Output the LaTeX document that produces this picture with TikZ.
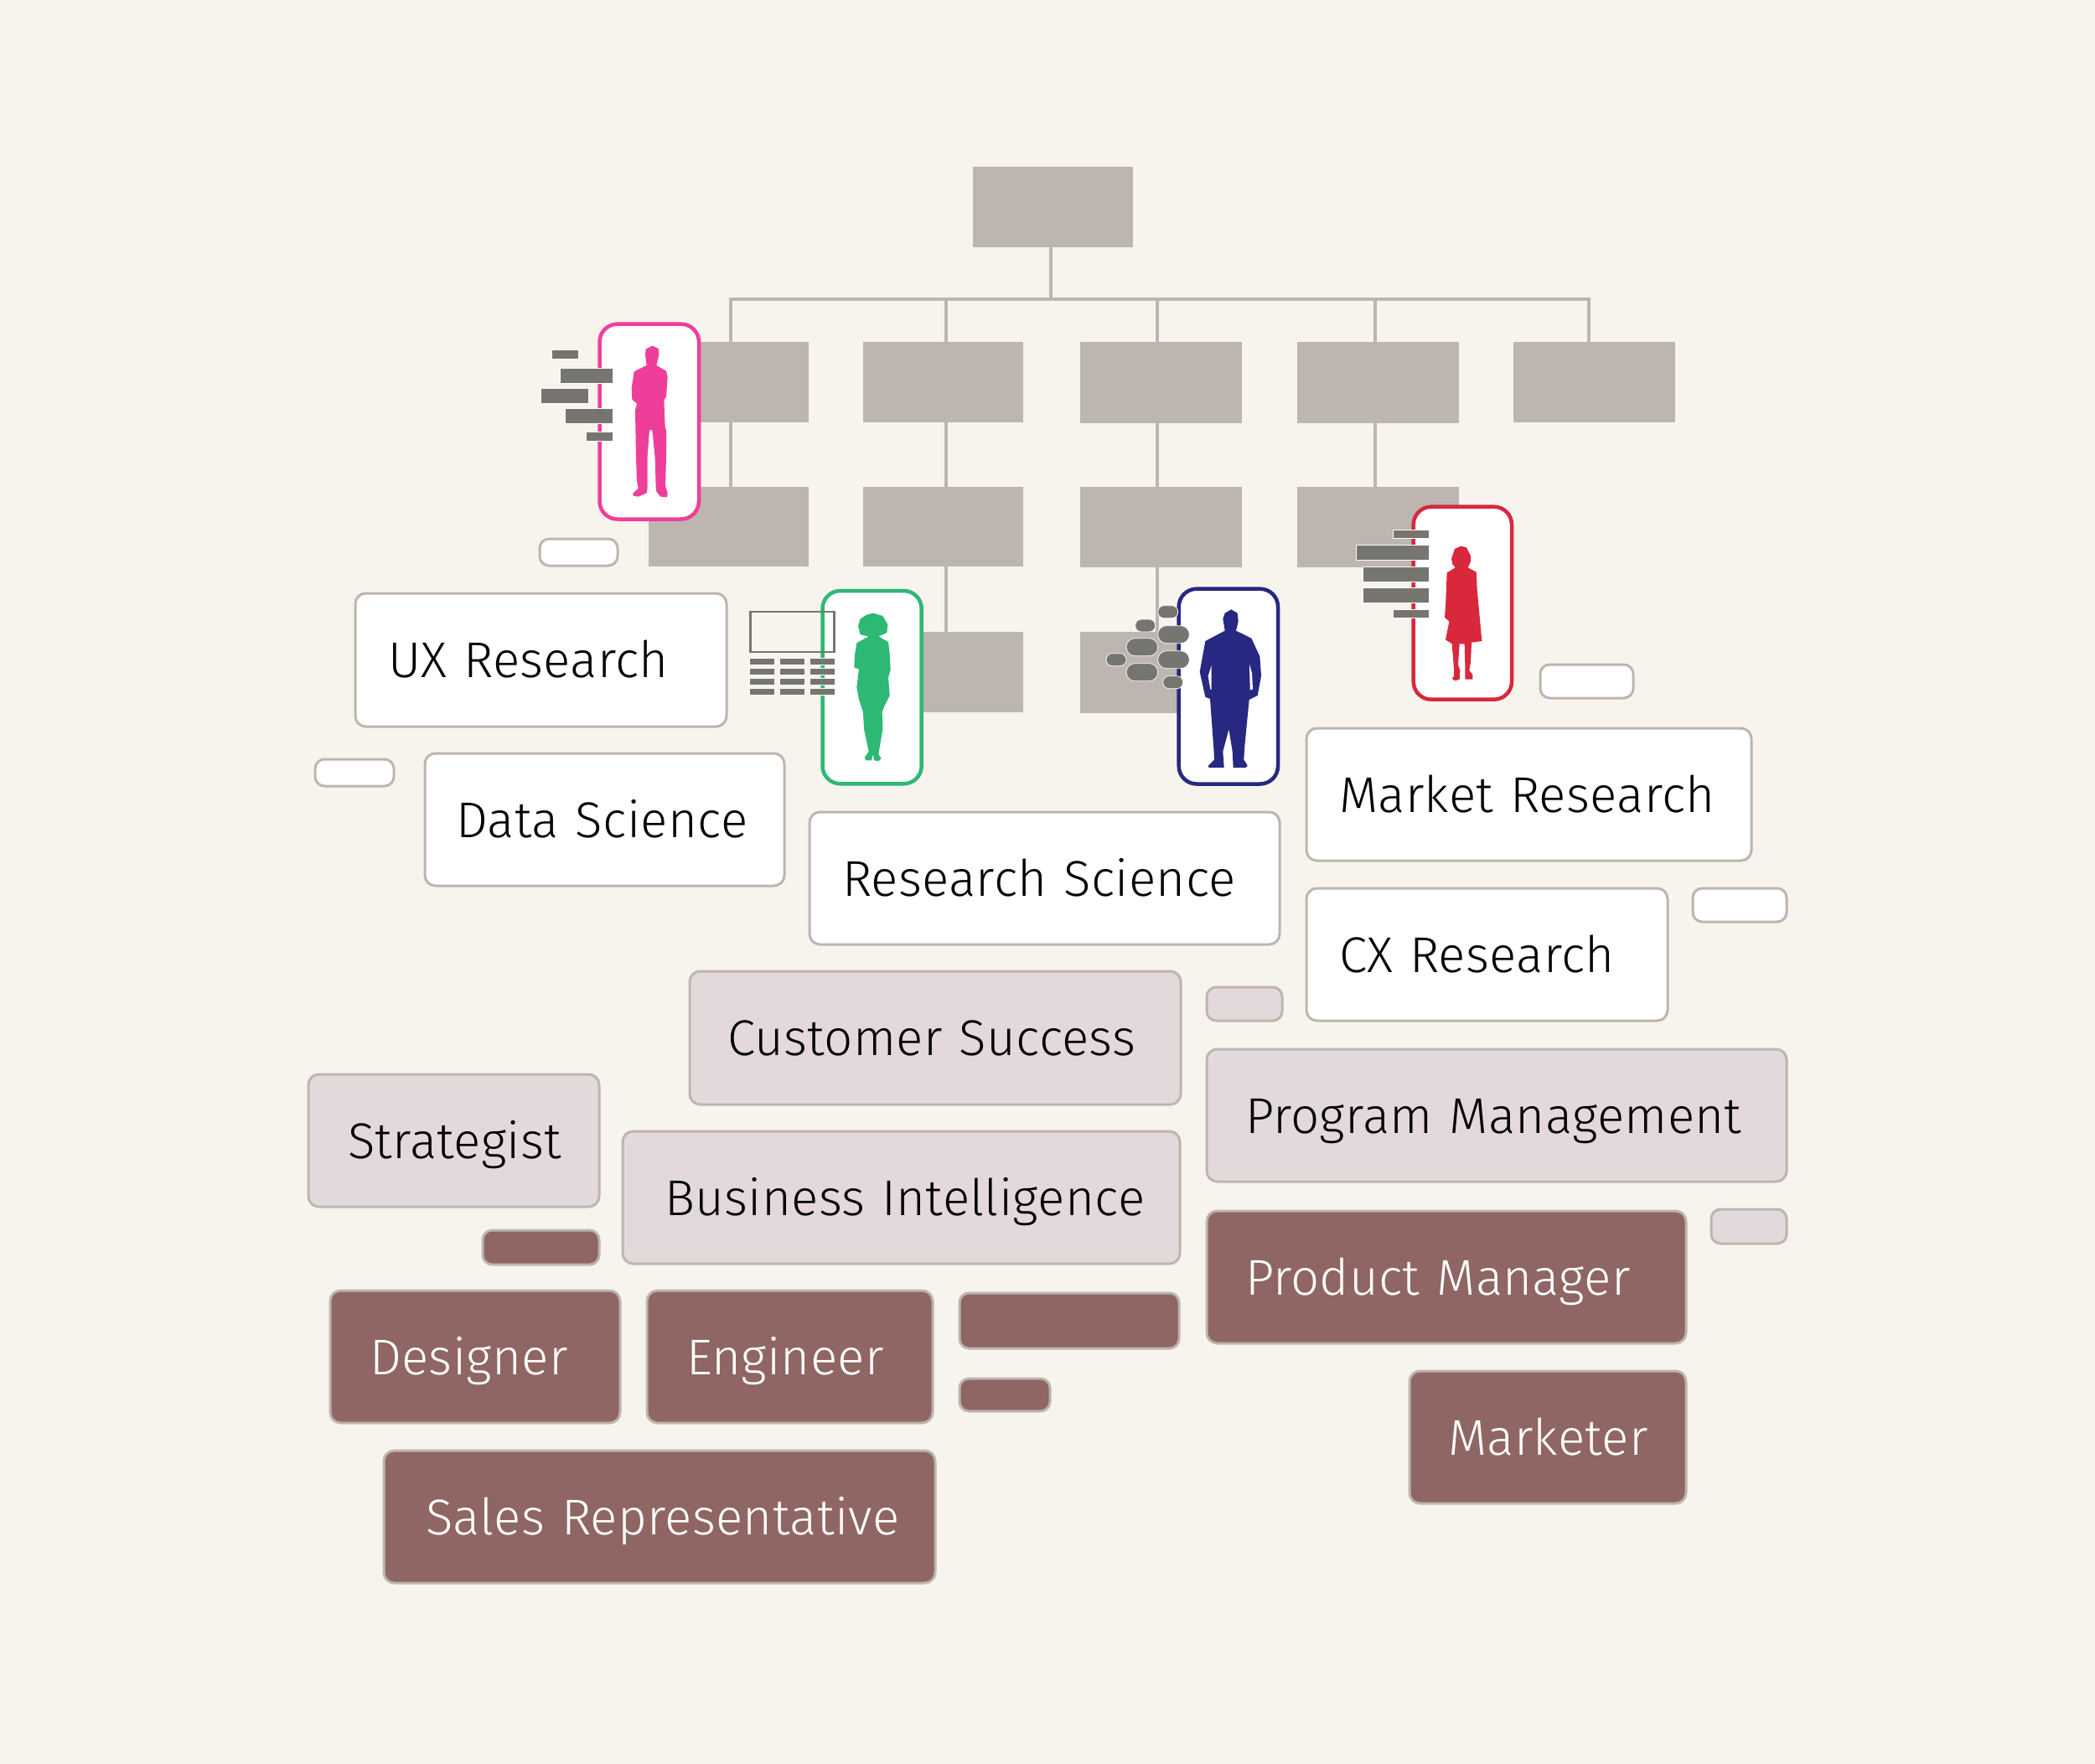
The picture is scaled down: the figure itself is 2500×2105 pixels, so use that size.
\documentclass[tikz,border=0pt]{standalone}
\usepackage{fontspec}
\setmainfont[UprightFont=* Light,LetterSpace=0.6]{Fira Sans}
\definecolor{bgc}{HTML}{F7F4ED}
\definecolor{tau}{HTML}{BDB5AF}
\definecolor{barc}{HTML}{77756F}
\definecolor{rose}{HTML}{E3D9DA}
\definecolor{brownc}{HTML}{8F6663}
\definecolor{pinkc}{HTML}{EF3E9A}
\definecolor{greenc}{HTML}{2DB875}
\definecolor{navyc}{HTML}{262882}
\definecolor{redc}{HTML}{D9273C}
\tikzset{
 org/.style={fill=tau,inner sep=0pt,outer sep=0pt},
 wire/.style={draw=tau,line width=1.9pt},
 lab/.style={draw=tau,line width=1.2pt,rounded corners=5pt,font=\fontsize{24}{24}\selectfont,align=left,inner ysep=0pt,outer sep=0pt,text height=19pt,text depth=2.2pt},
 lw/.style={lab,fill=white,text=black},
 lr/.style={lab,fill=rose,text=black},
 lb/.style={lab,fill=brownc,text=white},
 tag/.style={draw=tau,line width=1.2pt,rounded corners=4.5pt,inner sep=0pt,outer sep=0pt},
 card/.style={fill=white,line width=1.8pt,rounded corners=8.5pt,inner sep=0pt,outer sep=0pt},
 bar/.style={fill=barc,draw=white!60!bgc,line width=0.3pt,inner sep=0pt,outer sep=0pt},
 pillS/.style={bar,rounded corners=2.9pt},
 pillL/.style={bar,rounded corners=4.1pt}
}
\newcommand{\bx}[6]{%
 \pgfmathsetmacro\bxcx{(#3+#5)/2}\pgfmathsetmacro\bxcy{(#4+#6)/2}%
 \pgfmathsetmacro\bxw{(#5-#3)*0.4}\pgfmathsetmacro\bxh{(#6-#4)*0.4}%
 \node[#2,minimum width=\bxw pt,minimum height=\bxh pt] (#1) at (\bxcx,\bxcy) {};}
\newcommand{\lbx}[8]{%
 \pgfmathsetmacro\bxcx{(#3+#5)/2}\pgfmathsetmacro\bxcy{(#4+#6)/2}%
 \pgfmathsetmacro\bxw{(#5-#3-2*#7)*0.4}\pgfmathsetmacro\bxh{(#6-#4)*0.4}\pgfmathsetmacro\bxp{#7*0.4}%
 \node[#2,text width=\bxw pt,inner xsep=\bxp pt,minimum height=\bxh pt] (#1) at (\bxcx,\bxcy) {\mbox{#8}};}
\begin{document}
\begin{tikzpicture}[x=0.4pt,y=-0.4pt]
\fill[bgc] (0,0) rectangle (2500,2105);
\useasboundingbox (0,0) rectangle (2500,2105);
% org chart
\bx{top}{org}{1161}{199}{1352}{295}
\bx{a1}{org}{774}{408}{965}{504}
\bx{a2}{org}{1030}{408}{1221}{504}
\bx{a3}{org}{1289}{408}{1482}{505}
\bx{a4}{org}{1548}{408}{1741}{505}
\bx{a5}{org}{1806}{408}{1999}{504}
\bx{b1}{org}{774}{581}{965}{676}
\bx{b2}{org}{1030}{581}{1221}{676}
\bx{b3}{org}{1289}{581}{1482}{677}
\bx{b4}{org}{1548}{581}{1741}{677}
\bx{c2}{org}{1030}{754}{1221}{850}
\bx{c3}{org}{1289}{754}{1482}{851}
\coordinate (bus0) at (1254,357);
\coordinate (t1) at (872,357);
\coordinate (t2) at (1129,357);
\coordinate (t3) at (1381,357);
\coordinate (t4) at (1641,357);
\coordinate (t5) at (1896,357);
\draw[wire] (top.south -| bus0) -- (bus0);
\draw[wire,line cap=rect] (t1) -- (t5);
\draw[wire] (t1) -- (a1.north -| t1);
\draw[wire] (t2) -- (a2.north -| t2);
\draw[wire] (t3) -- (a3.north -| t3);
\draw[wire] (t4) -- (a4.north -| t4);
\draw[wire] (t5) -- (a5.north -| t5);
\draw[wire] (a1.south -| t1) -- (b1.north -| t1);
\draw[wire] (a2.south -| t2) -- (b2.north -| t2);
\draw[wire] (a3.south -| t3) -- (b3.north -| t3);
\draw[wire] (a4.south -| t4) -- (b4.north -| t4);
\draw[wire] (b2.south -| t2) -- (c2.north -| t2);
\draw[wire] (b3.south -| t3) -- (c3.north -| t3);
% labelled boxes
\lbx{ux}{lw}{424}{708}{867}{867}{39}{UX Research}
\lbx{ds}{lw}{507}{899}{936}{1057}{37}{Data Science}
\lbx{rs}{lw}{966}{969}{1527}{1127}{39}{Research Science}
\lbx{mr}{lw}{1559}{869}{2090}{1027}{39}{Market Research}
\lbx{cx}{lw}{1559}{1060}{1990}{1218}{39}{CX Research}
\lbx{cs}{lr}{823}{1159}{1409}{1318}{45}{Customer Success}
\lbx{st}{lr}{368}{1282}{715}{1440}{47}{Strategist}
\lbx{bi}{lr}{743}{1350}{1408}{1508}{50}{Business Intelligence}
\lbx{pm}{lr}{1440}{1252}{2132}{1410}{46}{Program Management}
\lbx{pd}{lb}{1440}{1445}{2012}{1603}{46}{Product Manager}
\lbx{de}{lb}{394}{1540}{740}{1698}{47}{Designer}
\lbx{en}{lb}{772}{1540}{1113}{1698}{47}{Engineer}
\lbx{sa}{lb}{458}{1731}{1116}{1889}{50}{Sales Representative}
\lbx{ma}{lb}{1682}{1636}{2012}{1794}{46}{Marketer}
% blank tags
\bx{w1}{tag,fill=white}{644}{643}{737}{675}
\bx{w2}{tag,fill=white}{376}{906}{470}{938}
\bx{w3}{tag,fill=white}{1838}{793}{1949}{833}
\bx{w4}{tag,fill=white}{2020}{1060}{2132}{1100}
\bx{r1}{tag,fill=rose}{1440}{1178}{1530}{1218}
\bx{r2}{tag,fill=rose}{2042}{1443}{2132}{1484}
\bx{k1}{tag,fill=brownc}{576}{1468}{715}{1509}
\bx{k2}{tag,fill=brownc}{1145}{1543}{1407}{1609}
\bx{k3}{tag,fill=brownc}{1145}{1645}{1253}{1684}
% persona cards
\bx{cardp}{card,draw=pinkc}{715.5}{386.7}{834}{619.5}
\bx{cardg}{card,draw=greenc}{981.5}{705}{1099.7}{935.3}
\bx{cardn}{card,draw=navyc}{1406.7}{702.7}{1525}{935.5}
\bx{cardr}{card,draw=redc}{1686.7}{604.7}{1804}{834.7}
% pink bars
\bx{p1}{bar}{658}{417}{690}{428}
\bx{p2}{bar}{668}{439}{731}{457}
\bx{p3}{bar}{645}{463}{702}{481}
\bx{p4}{bar}{674}{487}{731}{505}
\bx{p5}{bar}{699}{515}{731}{526}
% green table
\bx{g0}{draw=barc,line width=1.1pt,inner sep=0pt,outer sep=0pt}{895.7}{730}{995.7}{778}
\foreach \gi/\gx in {1/894.7,2/930.7,3/966.7}{
 \foreach \gj/\gy in {1/785.7,2/797.7,3/809.7,4/821.7}{
  \pgfmathsetmacro\gxb{\gx+30}\pgfmathsetmacro\gyb{\gy+7.5}
  \bx{g\gi\gj}{bar}{\gx}{\gy}{\gxb}{\gyb}
 }}
% navy pills
\bx{n1}{pillS}{1381.7}{722.7}{1405.7}{737.7}
\bx{n2}{pillS}{1354.7}{739}{1378.7}{754}
\bx{n3}{pillL}{1381.7}{746.7}{1419.3}{767.7}
\bx{n4}{pillL}{1344}{761.7}{1381.7}{782.7}
\bx{n5}{pillS}{1320}{779.7}{1344}{794.7}
\bx{n6}{pillL}{1381.7}{776.7}{1419.3}{797.7}
\bx{n7}{pillL}{1344}{791.7}{1381.7}{812.7}
\bx{n8}{pillS}{1387.7}{806.7}{1411.7}{821.7}
% red bars
\bx{q1}{bar}{1662}{632.3}{1705.3}{642.7}
\bx{q2}{bar}{1618.3}{650.3}{1705.3}{668.3}
\bx{q3}{bar}{1626.7}{676}{1705.3}{694}
\bx{q4}{bar}{1626.7}{701.7}{1705.3}{719.7}
\bx{q5}{bar}{1662}{727.3}{1705.3}{737.7}
% silhouettes
\begin{scope}[shift={(620,360)},x=0.13333pt,y=-0.13333pt]
\fill[pinkc] (475,158)--(497,168)--(499,190)--(490,228)--(525,248)--(530,270)--(525,340)--(517,352)--(521,450)--(525,460)--(525,560)--(522,660)--(530,685)--(528,700)--(505,698)--(490,680)--(488,665)--(485,560)--(475,460)--(465,460)--(458,550)--(458,665)--(455,685)--(425,698)--(408,695)--(405,688)--(425,668)--(420,640)--(417,560)--(414,390)--(420,365)--(403,350)--(401,310)--(410,250)--(455,228)--(450,190)--(452,170)--cycle;
\end{scope}
\begin{scope}[shift={(880,680)},x=0.13333pt,y=-0.13333pt]
\fill[greenc] (487,155)--(520,165)--(538,195)--(535,225)--(505,238)--(540,258)--(545,300)--(548,360)--(540,385)--(545,450)--(525,490)--(518,510)--(520,570)--(505,660)--(515,675)--(505,685)--(490,682)--(485,660)--(480,682)--(460,682)--(455,672)--(470,650)--(453,570)--(450,510)--(435,465)--(427,420)--(435,355)--(418,350)--(420,305)--(427,262)--(470,238)--(440,232)--(432,200)--(440,175)--(465,160)--cycle;
\end{scope}
\begin{scope}[shift={(1300,680)},x=0.13333pt,y=-0.13333pt]
\fill[navyc] (508,142)--(530,155)--(533,185)--(525,218)--(580,245)--(610,310)--(615,380)--(602,450)--(572,465)--(555,640)--(553,680)--(566,700)--(560,708)--(515,708)--(512,650)--(500,575)--(498,575)--(478,650)--(482,708)--(428,708)--(425,702)--(447,680)--(445,640)--(432,462)--(415,455)--(395,365)--(415,255)--(485,218)--(478,175)--(485,155)--cycle;
\fill[white] (437,342)--(425,380)--(433,428)--(437,428)--cycle;
\fill[white] (573,338)--(575,430)--(585,428)--(582,370)--cycle;
\end{scope}
\begin{scope}[shift={(1600,590)},x=0.13333pt,y=-0.13333pt]
\fill[redc] (430,185)--(450,190)--(465,220)--(465,240)--(455,262)--(485,278)--(488,340)--(505,525)--(468,530)--(465,600)--(460,630)--(472,645)--(472,662)--(445,662)--(445,610)--(443,535)--(425,535)--(420,610)--(427,630)--(425,662)--(410,667)--(398,660)--(405,650)--(405,625)--(398,535)--(375,520)--(388,455)--(372,440)--(375,400)--(380,280)--(410,262)--(400,250)--(396,230)--(408,195)--cycle;
\end{scope}
\end{tikzpicture}
\end{document}
